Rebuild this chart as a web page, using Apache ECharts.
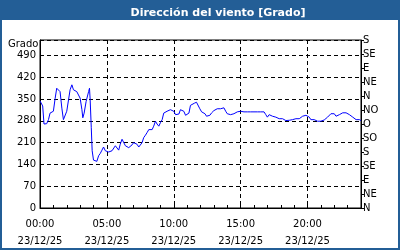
<!DOCTYPE html>
<html><head><meta charset="utf-8">
<script src="https://cdn.jsdelivr.net/npm/echarts@6/dist/echarts.min.js"></script>
<style>html,body{margin:0;padding:0;background:#fff}#c{width:400px;height:250px}</style>
</head><body><div id="c"></div>
<script>
var titleText = 'Dirección del viento [Grado]';
var dateLabel = '23/12/25';
var leftAxisName = 'Grado';
var compassLabels = ['N','NE','E','SE','S','SO','O','NO','N','NE','E','SE','S'];
// minutes since 00:00
var minutes = [0,12,18,30,38,45,53,60,68,75,83,90,98,105,113,120,128,135,143,150,158,165,173,180,188,192,198,207,218,222,225,230,234,240,248,255,263,270,278,285,293,300,308,315,323,330,338,345,353,360,368,375,383,390,398,405,413,420,428,435,443,450,458,465,473,480,488,495,503,510,518,525,533,540,548,555,563,570,578,585,593,600,608,615,623,630,638,645,653,660,668,
675,683,693,702,708,717,725,732,740,747,755,762,770,780,788,795,803,810,818,825,833,840,848,855,863,870,878,885,893,900,908,915,923,930,938,945,953,960,968,975,983,990,998,1005,1013,1020,1028,1035,1043,1050,1058,1065,1073,1080,1088,1095,1103,1110,1118,1125,1133,1140,1148,1155,1163,1170,1178,1185,1193,1200,1208,1215,1223,1230,1238,1245,1253,1260,1268,1275,1283,1290,1298,1305,1313,1320,1328,1335,1343,1350,1358,1365,1373,1380,1388,1395,1403,1410,1418,1425,1433,1440];
var degrees = [344,328,270,271,284,305,300,311,353,385,391,374,321,284,279,311,348,380,396,380,377,374,374,353,316,290,305,343,374,385,348,258,184,154,150,150,168,175,186,196,184,180,180,178,184,189,200,203,186,205,221,216,200,196,194,196,203,210,214,205,196,194,210,226,234,242,252,256,252,263,279,270,263,274,284,305,302,311,313,316,313,311,300,295,302,316,321,311,298,298,305,
330,334,337,340,334,319,309,309,303,295,292,298,306,313,316,319,313,319,324,322,311,303,298,300,303,303,300,309,313,311,309,309,309,309,311,309,306,309,313,309,303,309,313,309,300,292,300,303,295,292,292,290,287,290,287,284,281,282,282,283,284,284,287,290,287,292,295,292,298,295,292,284,282,284,282,279,279,279,281,283,287,292,298,303,309,303,295,298,300,303,306,306,306,303,300,295,292,287,284,284,284,281,281];

var seriesData = minutes.map(function(m,i){return [m, degrees[i]];});
function pad(n){return (n<10?'0':'')+n;}
var FONT = 'DejaVu Sans';
var chart = echarts.init(document.getElementById('c'), null, {renderer:'canvas'});
chart.setOption({
  animation:false,
  backgroundColor:'#fff',
  title:{text:titleText, left:213, textAlign:'center', top:3,
    textStyle:{color:'#fff', fontFamily:FONT, fontSize:11, fontWeight:'bold'}},
  graphic:[
    {type:'rect', shape:{x:0,y:0,width:400,height:20}, style:{fill:'#235e96'}, z:-1},
    {type:'rect', shape:{x:1,y:1,width:398,height:248}, style:{fill:null, stroke:'#235e96', lineWidth:2}, z:100},
    {type:'text', left:8, top:39, style:{text:leftAxisName, fill:'#000', font:'10px "DejaVu Sans"'}}
  ],
  grid:{left:40, right:39, top:40, bottom:39, show:true, borderColor:'#000', borderWidth:1, backgroundColor:'#fff'},
  xAxis:{type:'value', min:0, max:1440, interval:300,
    axisLine:{show:true, lineStyle:{color:'#000'}},
    axisTick:{show:true, inside:true, length:3, lineStyle:{color:'#000'}},
    minorTick:{show:true, splitNumber:5, length:3, lineStyle:{color:'#000'}},
    splitLine:{show:true, lineStyle:{color:'#000', type:[4,3], width:1}},
    axisLabel:{showMaxLabel:false, color:'#000', fontFamily:FONT, fontSize:10, lineHeight:17, margin:8,
      formatter:function(v){return pad(Math.floor(v/60))+':'+pad(v%60)+'\n'+dateLabel;}}
  },
  yAxis:[
    {type:'value', min:0, max:540, interval:70, position:'left',
      axisLine:{show:true, lineStyle:{color:'#000'}},
      axisTick:{show:false},
      splitLine:{show:true, lineStyle:{color:'#000', type:[4,3], width:1}},
      axisLabel:{showMaxLabel:false, color:'#000', fontFamily:FONT, fontSize:10, margin:4}
    },
    {type:'value', min:0, max:540, interval:45, position:'right',
      axisLine:{show:true, lineStyle:{color:'#000'}},
      axisTick:{show:true, length:3, lineStyle:{color:'#000'}},
      splitLine:{show:false},
      axisLabel:{color:'#000', fontFamily:FONT, fontSize:10, margin:2,
        formatter:function(v){return compassLabels[Math.round(v/45)];}}
    }
  ],
  series:[{type:'line', yAxisIndex:0, data:seriesData, showSymbol:false, symbol:'none',
    lineStyle:{color:'#0000ff', width:1}, itemStyle:{color:'#0000ff'}}]
});
</script></body></html>
